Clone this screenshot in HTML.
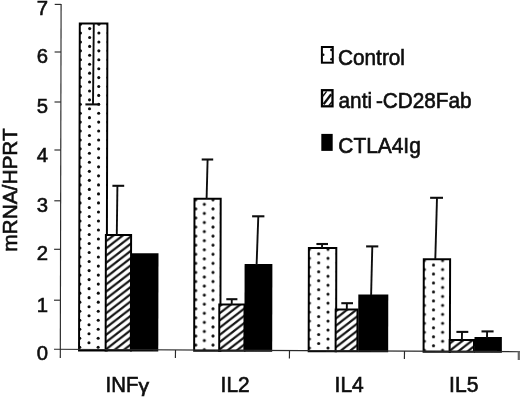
<!DOCTYPE html>
<html lang="en"><head><meta charset="utf-8"><title>mRNA/HPRT chart</title>
<style>
html,body{margin:0;padding:0;background:#fff;}
body{width:520px;height:397px;overflow:hidden;}
svg{display:block;}
text{font-family:"Liberation Sans",Arial,Helvetica,sans-serif;fill:#111;stroke:#111;stroke-width:0.6px;}
</style></head><body>
<svg width="520" height="397" viewBox="0 0 520 397">
<defs><filter id="soft" x="0" y="0" width="520" height="397" filterUnits="userSpaceOnUse"><feGaussianBlur stdDeviation="0.38"/></filter>
<pattern id="dots1" patternUnits="userSpaceOnUse" width="18.40" height="8.97" x="80.4" y="33.3"><rect width="18.40" height="8.97" fill="#fff"/><circle cx="0.00" cy="0.000" r="1.55" fill="#111"/><circle cx="18.40" cy="0.000" r="1.55" fill="#111"/><circle cx="0.00" cy="8.970" r="1.55" fill="#111"/><circle cx="18.40" cy="8.970" r="1.55" fill="#111"/><circle cx="9.20" cy="4.485" r="1.55" fill="#111"/></pattern>
<pattern id="dots2" patternUnits="userSpaceOnUse" width="17.30" height="9.08" x="195.7" y="208.9"><rect width="17.30" height="9.08" fill="#fff"/><circle cx="0.00" cy="0.000" r="1.55" fill="#111"/><circle cx="17.30" cy="0.000" r="1.55" fill="#111"/><circle cx="0.00" cy="9.080" r="1.55" fill="#111"/><circle cx="17.30" cy="9.080" r="1.55" fill="#111"/><circle cx="8.65" cy="4.540" r="1.55" fill="#111"/></pattern>
<pattern id="dots3" patternUnits="userSpaceOnUse" width="18.60" height="8.97" x="309.4" y="258.3"><rect width="18.60" height="8.97" fill="#fff"/><circle cx="0.00" cy="0.000" r="1.55" fill="#111"/><circle cx="18.60" cy="0.000" r="1.55" fill="#111"/><circle cx="0.00" cy="8.970" r="1.55" fill="#111"/><circle cx="18.60" cy="8.970" r="1.55" fill="#111"/><circle cx="9.30" cy="4.485" r="1.55" fill="#111"/></pattern>
<pattern id="dots4" patternUnits="userSpaceOnUse" width="18.20" height="8.97" x="424.4" y="269.5"><rect width="18.20" height="8.97" fill="#fff"/><circle cx="0.00" cy="0.000" r="1.55" fill="#111"/><circle cx="18.20" cy="0.000" r="1.55" fill="#111"/><circle cx="0.00" cy="8.970" r="1.55" fill="#111"/><circle cx="18.20" cy="8.970" r="1.55" fill="#111"/><circle cx="9.10" cy="4.485" r="1.55" fill="#111"/></pattern>
<pattern id="hatch1" patternUnits="userSpaceOnUse" width="9.3" height="7.2" x="106" y="234.10"><rect width="9.3" height="7.2" fill="#fff"/><path d="M-9.3 14.4 L18.6 -7.2 M-9.3 7.2 L9.3 -7.2 M0 14.4 L18.6 0" stroke="#111" stroke-width="2.2" fill="none"/></pattern>
<pattern id="hatch2" patternUnits="userSpaceOnUse" width="9.3" height="7.2" x="220" y="305.80"><rect width="9.3" height="7.2" fill="#fff"/><path d="M-9.3 14.4 L18.6 -7.2 M-9.3 7.2 L9.3 -7.2 M0 14.4 L18.6 0" stroke="#111" stroke-width="2.2" fill="none"/></pattern>
<pattern id="hatch3" patternUnits="userSpaceOnUse" width="9.3" height="7.2" x="336" y="311.20"><rect width="9.3" height="7.2" fill="#fff"/><path d="M-9.3 14.4 L18.6 -7.2 M-9.3 7.2 L9.3 -7.2 M0 14.4 L18.6 0" stroke="#111" stroke-width="2.2" fill="none"/></pattern>
<pattern id="hatch4" patternUnits="userSpaceOnUse" width="9.3" height="7.2" x="450.8" y="342.70"><rect width="9.3" height="7.2" fill="#fff"/><path d="M-9.3 14.4 L18.6 -7.2 M-9.3 7.2 L9.3 -7.2 M0 14.4 L18.6 0" stroke="#111" stroke-width="2.2" fill="none"/></pattern>

</defs>
<rect width="520" height="397" fill="#fff"/>
<g filter="url(#soft)">
<rect width="520" height="397" fill="#fff"/>
<clipPath id="cp1"><path d="M79.8 23.6 H107.4 L106.64 350.5 H79.04 Z"/></clipPath><path d="M79.8 23.6 H107.4 L106.64 350.5 H79.04 Z" fill="#fff"/><g clip-path="url(#cp1)" fill="#111">
<circle cx="80.50" cy="24.15" r="1.55"/>
<circle cx="98.90" cy="24.15" r="1.55"/>
<circle cx="108.10" cy="24.15" r="1.55"/>
<circle cx="89.69" cy="28.60" r="1.55"/>
<circle cx="80.48" cy="33.05" r="1.55"/>
<circle cx="98.88" cy="33.05" r="1.55"/>
<circle cx="108.08" cy="33.05" r="1.55"/>
<circle cx="89.67" cy="37.51" r="1.55"/>
<circle cx="80.46" cy="41.96" r="1.55"/>
<circle cx="98.86" cy="41.96" r="1.55"/>
<circle cx="108.06" cy="41.96" r="1.55"/>
<circle cx="89.65" cy="46.41" r="1.55"/>
<circle cx="80.44" cy="50.87" r="1.55"/>
<circle cx="98.84" cy="50.87" r="1.55"/>
<circle cx="108.04" cy="50.87" r="1.55"/>
<circle cx="89.63" cy="55.32" r="1.55"/>
<circle cx="80.42" cy="59.78" r="1.55"/>
<circle cx="98.82" cy="59.78" r="1.55"/>
<circle cx="108.02" cy="59.78" r="1.55"/>
<circle cx="89.61" cy="64.23" r="1.55"/>
<circle cx="80.39" cy="68.68" r="1.55"/>
<circle cx="98.79" cy="68.68" r="1.55"/>
<circle cx="107.99" cy="68.68" r="1.55"/>
<circle cx="89.58" cy="73.14" r="1.55"/>
<circle cx="80.37" cy="77.59" r="1.55"/>
<circle cx="98.77" cy="77.59" r="1.55"/>
<circle cx="107.97" cy="77.59" r="1.55"/>
<circle cx="89.56" cy="82.04" r="1.55"/>
<circle cx="80.35" cy="86.50" r="1.55"/>
<circle cx="98.75" cy="86.50" r="1.55"/>
<circle cx="107.95" cy="86.50" r="1.55"/>
<circle cx="89.54" cy="90.95" r="1.55"/>
<circle cx="80.33" cy="95.40" r="1.55"/>
<circle cx="98.73" cy="95.40" r="1.55"/>
<circle cx="107.93" cy="95.40" r="1.55"/>
<circle cx="89.52" cy="99.86" r="1.55"/>
<circle cx="80.31" cy="104.31" r="1.55"/>
<circle cx="98.71" cy="104.31" r="1.55"/>
<circle cx="107.91" cy="104.31" r="1.55"/>
<circle cx="89.50" cy="108.76" r="1.55"/>
<circle cx="80.29" cy="113.22" r="1.55"/>
<circle cx="98.69" cy="113.22" r="1.55"/>
<circle cx="107.89" cy="113.22" r="1.55"/>
<circle cx="89.48" cy="117.67" r="1.55"/>
<circle cx="80.27" cy="122.12" r="1.55"/>
<circle cx="98.67" cy="122.12" r="1.55"/>
<circle cx="107.87" cy="122.12" r="1.55"/>
<circle cx="89.46" cy="126.58" r="1.55"/>
<circle cx="80.25" cy="131.03" r="1.55"/>
<circle cx="98.65" cy="131.03" r="1.55"/>
<circle cx="107.85" cy="131.03" r="1.55"/>
<circle cx="89.44" cy="135.49" r="1.55"/>
<circle cx="80.23" cy="139.94" r="1.55"/>
<circle cx="98.63" cy="139.94" r="1.55"/>
<circle cx="107.83" cy="139.94" r="1.55"/>
<circle cx="89.42" cy="144.39" r="1.55"/>
<circle cx="80.21" cy="148.85" r="1.55"/>
<circle cx="98.61" cy="148.85" r="1.55"/>
<circle cx="107.81" cy="148.85" r="1.55"/>
<circle cx="89.40" cy="153.30" r="1.55"/>
<circle cx="80.19" cy="157.81" r="1.55"/>
<circle cx="98.59" cy="157.81" r="1.55"/>
<circle cx="107.79" cy="157.81" r="1.55"/>
<circle cx="89.38" cy="162.32" r="1.55"/>
<circle cx="80.17" cy="166.83" r="1.55"/>
<circle cx="98.57" cy="166.83" r="1.55"/>
<circle cx="107.77" cy="166.83" r="1.55"/>
<circle cx="89.36" cy="171.34" r="1.55"/>
<circle cx="80.15" cy="175.86" r="1.55"/>
<circle cx="98.55" cy="175.86" r="1.55"/>
<circle cx="107.75" cy="175.86" r="1.55"/>
<circle cx="89.34" cy="180.37" r="1.55"/>
<circle cx="80.13" cy="184.88" r="1.55"/>
<circle cx="98.53" cy="184.88" r="1.55"/>
<circle cx="107.73" cy="184.88" r="1.55"/>
<circle cx="89.32" cy="189.39" r="1.55"/>
<circle cx="80.11" cy="193.90" r="1.55"/>
<circle cx="98.51" cy="193.90" r="1.55"/>
<circle cx="107.71" cy="193.90" r="1.55"/>
<circle cx="89.30" cy="198.41" r="1.55"/>
<circle cx="80.09" cy="202.92" r="1.55"/>
<circle cx="98.49" cy="202.92" r="1.55"/>
<circle cx="107.69" cy="202.92" r="1.55"/>
<circle cx="89.28" cy="207.43" r="1.55"/>
<circle cx="80.07" cy="211.94" r="1.55"/>
<circle cx="98.47" cy="211.94" r="1.55"/>
<circle cx="107.67" cy="211.94" r="1.55"/>
<circle cx="89.26" cy="216.46" r="1.55"/>
<circle cx="80.04" cy="220.97" r="1.55"/>
<circle cx="98.44" cy="220.97" r="1.55"/>
<circle cx="107.64" cy="220.97" r="1.55"/>
<circle cx="89.23" cy="225.48" r="1.55"/>
<circle cx="80.02" cy="229.99" r="1.55"/>
<circle cx="98.42" cy="229.99" r="1.55"/>
<circle cx="107.62" cy="229.99" r="1.55"/>
<circle cx="89.21" cy="234.50" r="1.55"/>
<circle cx="80.00" cy="239.01" r="1.55"/>
<circle cx="98.40" cy="239.01" r="1.55"/>
<circle cx="107.60" cy="239.01" r="1.55"/>
<circle cx="89.19" cy="243.52" r="1.55"/>
<circle cx="79.98" cy="248.03" r="1.55"/>
<circle cx="98.38" cy="248.03" r="1.55"/>
<circle cx="107.58" cy="248.03" r="1.55"/>
<circle cx="89.17" cy="252.54" r="1.55"/>
<circle cx="79.96" cy="257.06" r="1.55"/>
<circle cx="98.36" cy="257.06" r="1.55"/>
<circle cx="107.56" cy="257.06" r="1.55"/>
<circle cx="89.15" cy="261.57" r="1.55"/>
<circle cx="79.94" cy="266.08" r="1.55"/>
<circle cx="98.34" cy="266.08" r="1.55"/>
<circle cx="107.54" cy="266.08" r="1.55"/>
<circle cx="89.13" cy="270.59" r="1.55"/>
<circle cx="79.92" cy="275.10" r="1.55"/>
<circle cx="98.32" cy="275.10" r="1.55"/>
<circle cx="107.52" cy="275.10" r="1.55"/>
<circle cx="89.11" cy="279.61" r="1.55"/>
<circle cx="79.90" cy="284.12" r="1.55"/>
<circle cx="98.30" cy="284.12" r="1.55"/>
<circle cx="107.50" cy="284.12" r="1.55"/>
<circle cx="89.09" cy="288.63" r="1.55"/>
<circle cx="79.88" cy="293.14" r="1.55"/>
<circle cx="98.28" cy="293.14" r="1.55"/>
<circle cx="107.48" cy="293.14" r="1.55"/>
<circle cx="89.07" cy="297.66" r="1.55"/>
<circle cx="79.86" cy="302.17" r="1.55"/>
<circle cx="98.26" cy="302.17" r="1.55"/>
<circle cx="107.46" cy="302.17" r="1.55"/>
<circle cx="89.05" cy="306.68" r="1.55"/>
<circle cx="79.84" cy="311.19" r="1.55"/>
<circle cx="98.24" cy="311.19" r="1.55"/>
<circle cx="107.44" cy="311.19" r="1.55"/>
<circle cx="89.03" cy="315.70" r="1.55"/>
<circle cx="79.82" cy="320.21" r="1.55"/>
<circle cx="98.22" cy="320.21" r="1.55"/>
<circle cx="107.42" cy="320.21" r="1.55"/>
<circle cx="89.01" cy="324.72" r="1.55"/>
<circle cx="79.80" cy="329.23" r="1.55"/>
<circle cx="98.20" cy="329.23" r="1.55"/>
<circle cx="107.40" cy="329.23" r="1.55"/>
<circle cx="88.99" cy="333.74" r="1.55"/>
<circle cx="79.77" cy="338.26" r="1.55"/>
<circle cx="98.17" cy="338.26" r="1.55"/>
<circle cx="107.37" cy="338.26" r="1.55"/>
<circle cx="88.96" cy="342.77" r="1.55"/>
<circle cx="79.75" cy="347.28" r="1.55"/>
<circle cx="98.15" cy="347.28" r="1.55"/>
<circle cx="107.35" cy="347.28" r="1.55"/>
<circle cx="88.94" cy="351.79" r="1.55"/>
</g>
<path d="M79.8 23.6 H107.4 L106.64 350.5 H79.04 Z" fill="none" stroke="#050505" stroke-width="2"/>
<path d="M105.9 235.0 H131.1 L130.83 350.5 H105.63 Z" fill="url(#hatch1)" stroke="#050505" stroke-width="2"/>
<path d="M130.3 253.2 H158.5 L158.27 351.5 H130.07 Z" fill="#050505"/>
<path d="M194.5 198.7 H220.7 L220.35 350.8 H194.15 Z" fill="url(#dots2)" stroke="#050505" stroke-width="2"/>
<path d="M219.3 304.6 H244.5 L244.39 350.8 H219.19 Z" fill="url(#hatch2)" stroke="#050505" stroke-width="2"/>
<path d="M244.6 264.0 H272.4 L272.20 351.8 H244.40 Z" fill="#050505"/>
<path d="M308.9 248.0 H336.3 L336.06 351.2 H308.66 Z" fill="url(#dots3)" stroke="#050505" stroke-width="2"/>
<path d="M335.7 309.6 H357.5 L357.40 351.2 H335.60 Z" fill="url(#hatch3)" stroke="#050505" stroke-width="2"/>
<path d="M358.3 294.4 H388.3 L388.17 352.2 H358.17 Z" fill="#050505"/>
<path d="M423.8 259.2 H450.1 L449.88 351.7 H423.58 Z" fill="url(#dots4)" stroke="#050505" stroke-width="2"/>
<path d="M449.7 339.9 H474.0 L473.97 351.7 H449.67 Z" fill="url(#hatch4)" stroke="#050505" stroke-width="2"/>
<path d="M474.5 336.9 H501.9 L501.86 352.7 H474.46 Z" fill="#050505"/>
<g stroke="#2a2a2a" stroke-width="1.15" fill="none">
<path d="M61.1 3.9 L60.3 358"/>
<path d="M54 349.3 L520 351.7"/>
<path d="M54.7 4.4 H61.1"/>
<path d="M54.6 52 H61.0"/>
<path d="M54.5 102 H60.9"/>
<path d="M54.4 150 H60.8"/>
<path d="M54.3 200.8 H60.7"/>
<path d="M54.1 249.3 H60.5"/>
<path d="M54.0 300.2 H60.4"/>
<path d="M175.5 350.1 L175.4 358.1"/>
<path d="M289.5 350.5 L289.4 358.5"/>
<path d="M404.5 351.0 L404.4 359.0"/>
</g>
<path d="M518.8 351.4 V360" stroke="#666" stroke-width="2.2"/>
<g stroke="#111" fill="none">
<path d="M93.0 104.4 L93.8 23.5" stroke-width="1.9"/><path d="M85.4 104.4 H99.8" stroke-width="2.1"/>
<path d="M117.4 185.8 L116.8 235" stroke-width="1.9"/><path d="M112.4 185.8 H124.2" stroke-width="2.1"/>
<path d="M207.6 159.5 L206.6 198.5" stroke-width="1.9"/><path d="M201.7 159.5 H213.2" stroke-width="2.1"/>
<path d="M231.8 299.2 L231.7 304.5" stroke-width="1.9"/><path d="M226.3 299.2 H237.4" stroke-width="2.1"/>
<path d="M258.3 216.3 L256.6 265" stroke-width="1.9"/><path d="M252.1 216.3 H264.4" stroke-width="2.1"/>
<path d="M322.1 244.0 L322.0 248" stroke-width="1.9"/><path d="M316.4 244.0 H328.0" stroke-width="2.1"/>
<path d="M346.9 303.2 L346.8 309.5" stroke-width="1.9"/><path d="M341.3 303.2 H353.0" stroke-width="2.1"/>
<path d="M372.3 246.4 L371.1 295" stroke-width="1.9"/><path d="M366.1 246.4 H378.3" stroke-width="2.1"/>
<path d="M437.0 197.8 L435.3 259" stroke-width="1.9"/><path d="M430.1 197.8 H443.0" stroke-width="2.1"/>
<path d="M462.0 331.9 L461.9 340" stroke-width="1.9"/><path d="M456.4 331.9 H468.3" stroke-width="2.1"/>
<path d="M487.1 331.4 L487.0 338" stroke-width="1.9"/><path d="M481.5 331.4 H493.6" stroke-width="2.1"/>
</g>
<text transform="translate(48 15) scale(1 1.0)" font-size="20.3" text-anchor="end">7</text>
<text transform="translate(48 63.4) scale(1 1.0)" font-size="20.3" text-anchor="end">6</text>
<text transform="translate(48 112.9) scale(1 1.0)" font-size="20.3" text-anchor="end">5</text>
<text transform="translate(48 162) scale(1 1.0)" font-size="20.3" text-anchor="end">4</text>
<text transform="translate(48 212.3) scale(1 1.0)" font-size="20.3" text-anchor="end">3</text>
<text transform="translate(48 260.3) scale(1 1.0)" font-size="20.3" text-anchor="end">2</text>
<text transform="translate(48 311.5) scale(1 1.0)" font-size="20.3" text-anchor="end">1</text>
<text transform="translate(48 360) scale(1 1.0)" font-size="20.3" text-anchor="end">0</text>
<text transform="translate(16.8 251.8) rotate(-90) scale(1 1.0)" font-size="20.2" text-anchor="start" textLength="123.6" lengthAdjust="spacingAndGlyphs">mRNA/HPRT</text>
<text transform="translate(105.6 391.7) scale(1 1.11)" font-size="20.5" text-anchor="start" textLength="32.8" lengthAdjust="spacingAndGlyphs">INF</text>
<text transform="translate(138.5 391.8) scale(1 1.0)" font-size="18" text-anchor="start" textLength="10.6" lengthAdjust="spacingAndGlyphs">γ</text>
<text transform="translate(220.6 391.5) scale(1 1.1)" font-size="20.5" text-anchor="start" textLength="29" lengthAdjust="spacingAndGlyphs">IL2</text>
<text transform="translate(334.6 392) scale(1 1.12)" font-size="20.5" text-anchor="start" textLength="29.2" lengthAdjust="spacingAndGlyphs">IL4</text>
<text transform="translate(449.1 392.4) scale(1 1.11)" font-size="20.5" text-anchor="start" textLength="29.3" lengthAdjust="spacingAndGlyphs">IL5</text>
<rect x="321.9" y="47" width="10.9" height="15.7" fill="#fff" stroke="#050505" stroke-width="2"/>
<circle cx="323.2" cy="54.7" r="1.3" fill="#111"/><circle cx="331.4" cy="49.9" r="1.3" fill="#111"/><circle cx="331.4" cy="59.3" r="1.3" fill="#111"/>
<text transform="translate(338 65.4) scale(1 1.1)" font-size="20.5" text-anchor="start" textLength="67" lengthAdjust="spacingAndGlyphs">Control</text>
<rect x="322" y="90.2" width="10.5" height="16.1" fill="#fff" stroke="#050505" stroke-width="2.3"/>
<path d="M323.6 104.2 L331.2 94.3" stroke="#111" stroke-width="2.3" fill="none"/><path d="M322.8 96.2 L326.6 91.4 M328.8 105.8 L332 101.6" stroke="#111" stroke-width="1.5" fill="none"/>
<text transform="translate(338.6 108.2) scale(1 1.1)" font-size="20.5" text-anchor="start" textLength="33.4" lengthAdjust="spacingAndGlyphs">anti</text>
<text transform="translate(375.9 108.2) scale(1 1.1)" font-size="20.5" text-anchor="start" textLength="95.6" lengthAdjust="spacingAndGlyphs">-CD28Fab</text>
<rect x="321.3" y="133.9" width="11.4" height="17" fill="#050505"/>
<text transform="translate(338.3 152.5) scale(1 1.1)" font-size="20.5" text-anchor="start" textLength="82.5" lengthAdjust="spacingAndGlyphs">CTLA4Ig</text>
</g></svg></body></html>
